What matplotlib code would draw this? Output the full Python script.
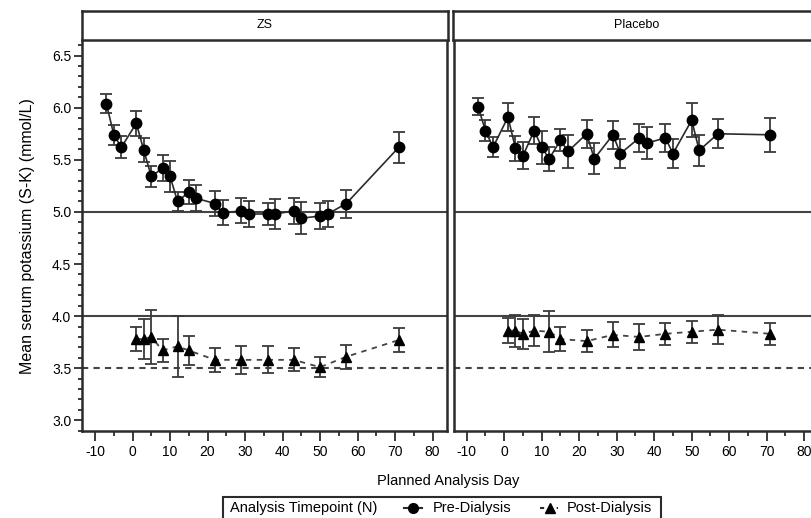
import matplotlib
matplotlib.use("Agg")
import matplotlib.pyplot as plt
from matplotlib.lines import Line2D
from matplotlib.patches import Rectangle
from matplotlib.ticker import MultipleLocator

# ----------------------------
# Data
# ----------------------------
pre_days = [-7, -5, -3, 1, 3, 5, 8, 10, 12, 15, 17, 22, 24, 29, 31, 36, 38, 43, 45, 50, 52, 57, 71]
post_days = [1, 3, 5, 8, 12, 15, 22, 29, 36, 43, 50, 57, 71]

zs_pre = [6.04, 5.74, 5.62, 5.85, 5.59, 5.34, 5.42, 5.34, 5.10, 5.19, 5.13, 5.08, 4.99,
          5.01, 4.98, 4.98, 4.98, 5.01, 4.94, 4.96, 4.98, 5.08, 5.62]
zs_pre_err = [0.095, 0.096, 0.107, 0.12, 0.115, 0.10, 0.125, 0.15, 0.09, 0.115, 0.125, 0.117, 0.12,
              0.12, 0.128, 0.11, 0.14, 0.125, 0.155, 0.125, 0.128, 0.134, 0.15]
zs_post = [3.78, 3.78, 3.80, 3.67, 3.71, 3.67, 3.58, 3.58, 3.58, 3.58, 3.51, 3.61, 3.77]
zs_post_err = [0.115, 0.19, 0.26, 0.115, 0.29, 0.14, 0.112, 0.136, 0.13, 0.11, 0.096, 0.117, 0.117]

pl_pre = [6.01, 5.78, 5.62, 5.91, 5.61, 5.54, 5.78, 5.62, 5.51, 5.69, 5.58, 5.75, 5.51,
          5.74, 5.56, 5.71, 5.66, 5.71, 5.56, 5.88, 5.59, 5.75, 5.74]
pl_pre_err = [0.08, 0.10, 0.096, 0.133, 0.123, 0.128, 0.13, 0.158, 0.115, 0.104, 0.16, 0.133, 0.147,
              0.133, 0.139, 0.136, 0.155, 0.136, 0.136, 0.163, 0.152, 0.14, 0.166]
pl_post = [3.86, 3.86, 3.83, 3.86, 3.85, 3.78, 3.76, 3.82, 3.80, 3.83, 3.85, 3.87, 3.83]
pl_post_err = [0.117, 0.152, 0.142, 0.147, 0.197, 0.118, 0.103, 0.12, 0.126, 0.104, 0.107, 0.136, 0.107]

panels = ["ZS", "Placebo"]

plt.rcParams["font.family"] = ["Liberation Sans", "DejaVu Sans"]
plt.rcParams["axes.unicode_minus"] = False

fig = plt.figure(figsize=(8.12, 5.18), dpi=100)

dark = "#2b2b2b"
ax_w, ax_b, ax_h = 0.4488, 0.1685, 0.7523
lefts = [0.1014, 0.5591]

series = [(zs_pre, zs_pre_err, zs_post, zs_post_err),
          (pl_pre, pl_pre_err, pl_post, pl_post_err)]

for i, (name, (pre, pre_err, post, post_err)) in enumerate(zip(panels, series)):
    ax = fig.add_axes([lefts[i], ax_b, ax_w, ax_h])

    # reference lines
    ax.axhline(5.0, color="#444444", lw=1.5, zorder=1)
    ax.axhline(4.0, color="#444444", lw=1.5, zorder=1)
    ax.axhline(3.5, color="#444444", lw=1.5, ls=(0, (3, 2.5)), zorder=1)

    # pre-dialysis
    ax.errorbar(pre_days, pre, yerr=pre_err, fmt="none", ecolor="#3a3a3a",
                elinewidth=1.3, capsize=4.5, capthick=1.3, zorder=2)
    ax.plot(pre_days, pre, "-", color=dark, lw=1.2, marker="o", ms=7.5,
            mfc="black", mec="black", zorder=3)

    # post-dialysis
    ax.errorbar(post_days, post, yerr=post_err, fmt="none", ecolor="#3a3a3a",
                elinewidth=1.3, capsize=4.5, capthick=1.3, zorder=2)
    ax.plot(post_days, post, color="#444444", lw=1.3, ls=(0, (3, 3)), marker="^", ms=6.5,
            mfc="black", mec="black", zorder=3)

    ax.set_xlim(-13.4, 83.8)
    ax.set_ylim(2.90, 6.64)
    ax.xaxis.set_major_locator(MultipleLocator(10))
    ax.xaxis.set_minor_locator(MultipleLocator(5))
    ax.tick_params(axis="x", which="major", length=7, width=1.3, color=dark,
                   labelsize=10, pad=3)
    ax.tick_params(axis="x", which="minor", length=3.5, width=1.3, color=dark)

    ax.spines["top"].set_visible(False)
    for s in ["left", "bottom", "right"]:
        ax.spines[s].set_linewidth(1.8)
        ax.spines[s].set_color(dark)

    if i == 0:
        ax.yaxis.set_major_locator(MultipleLocator(0.5))
        ax.yaxis.set_minor_locator(MultipleLocator(0.1))
        ax.yaxis.set_major_formatter(matplotlib.ticker.FormatStrFormatter("%.1f"))
        ax.tick_params(axis="y", which="major", length=6, width=1.3, color=dark,
                       labelsize=10, pad=2)
        ax.tick_params(axis="y", which="minor", length=3, width=1.3, color=dark)
        ax.set_ylabel("Mean serum potassium (S-K) (mmol/L)", fontsize=11.5, labelpad=12)
    else:
        ax.set_yticks([])

    # facet strip
    sax = fig.add_axes([lefts[i] - 0.001, 0.9228, ax_w + 0.003, 0.056])
    sax.set_xticks([])
    sax.set_yticks([])
    for s in sax.spines.values():
        s.set_linewidth(1.8)
        s.set_color(dark)
    sax.text(0.5, 0.5, name, ha="center", va="center", fontsize=9,
             transform=sax.transAxes)

fig.text(0.552, 0.072, "Planned Analysis Day", ha="center", va="center", fontsize=10.5)

# legend box
fig.patches.append(Rectangle((223 / 812, -0.02), (661 - 223) / 812, 0.06,
                             transform=fig.transFigure, fill=False,
                             edgecolor=dark, lw=1.5))
ly = 1 - 508 / 518
fig.text(230 / 812, ly, "Analysis Timepoint (N)", ha="left", va="center", fontsize=10.5)
fig.lines.append(Line2D([404 / 812, 422 / 812], [ly, ly], transform=fig.transFigure,
                        color=dark, lw=1.5))
fig.lines.append(Line2D([413 / 812], [ly], transform=fig.transFigure,
                        color="black", marker="o", ms=7))
fig.text(433 / 812, ly, "Pre-Dialysis", ha="left", va="center", fontsize=10.5)
fig.lines.append(Line2D([540 / 812, 558 / 812], [ly, ly], transform=fig.transFigure,
                        color=dark, lw=1.5, ls=(0, (2, 6))))
fig.lines.append(Line2D([550 / 812], [ly], transform=fig.transFigure,
                        color="black", marker="^", ms=6.5))
fig.text(567 / 812, ly, "Post-Dialysis", ha="left", va="center", fontsize=10.5)

fig.savefig("out.png", dpi=100)
